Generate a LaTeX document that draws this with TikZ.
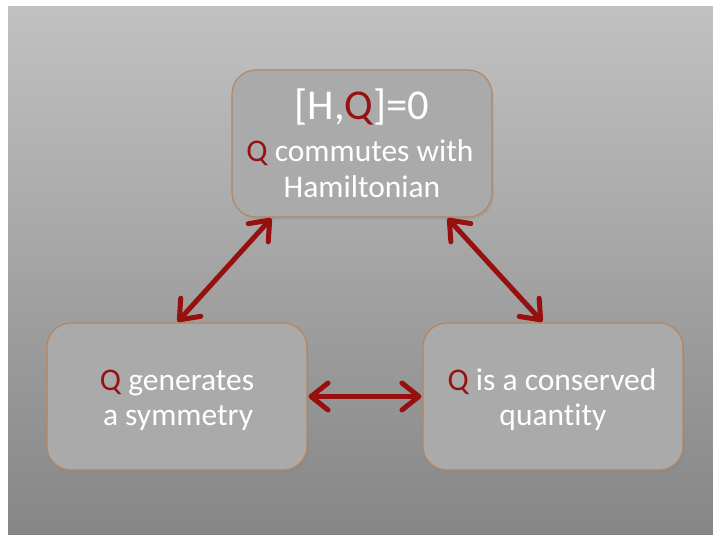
\documentclass[tikz,border=0pt]{standalone}
\usepackage{fontspec}
\setmainfont[Ligatures=NoCommon]{Carlito}
\usetikzlibrary{arrows.meta,shadows}
\definecolor{qred}{RGB}{150,18,18}
\definecolor{arrred}{RGB}{150,16,16}
\definecolor{boxfill}{RGB}{170,170,170}
\definecolor{boxedge}{RGB}{184,132,92}
\begin{document}
\begin{tikzpicture}[x=1pt,y=-1pt,
  box/.style={draw=boxedge, line width=1.1pt, fill=boxfill, rounded corners=24pt,
    minimum width=260pt, minimum height=147pt, inner sep=0pt,
    drop shadow={opacity=0.22, shadow xshift=1.5pt, shadow yshift=-2.5pt}},
  lbl/.style={anchor=base, text=white, inner sep=0pt},
  big/.style={lbl, font=\fontsize{42.5}{46}\selectfont},
  med/.style={lbl, font=\fontsize{31.5}{35}\selectfont},
  link/.style={draw=arrred, line width=5pt, {Straight Barb[length=17pt,width=27pt,line cap=round,line join=round]}-{Straight Barb[length=17pt,width=27pt,line cap=round,line join=round]}, shorten <=1pt, shorten >=1pt}
]
\useasboundingbox (0,0) rectangle (713,535);
\fill[white] (0,0) rectangle (713,535);
\shade[top color={rgb,255:red,193;green,193;blue,193}, middle color={rgb,255:red,176;green,176;blue,176}, bottom color={rgb,255:red,134;green,134;blue,134}] (8,7) rectangle (713,535);

\node[box] (top) at (362,143.5) {};
\node[box] (left) at (177,396.5) {};
\node[box] (right) at (553,396.5) {};

\node[big] (t1) at (362,120) {[H,{\color{qred}Q}]=0};
\node[med] (t2) at (360,161) {{\color{qred}Q} commutes with};
\node[med] (t3) at (362,197) {Hamiltonian};
\node[med] (l1) at (177,390) {{\color{qred}Q} generates};
\node[med] (l2) at (178,425) {a symmetry};
\node[med] (r1) at (552,390) {{\color{qred}Q} is a conserved};
\node[med] (r2) at (553,425) {quantity};

\draw[link] ([xshift=-90pt]top.south) -- (left.north);
\draw[link] ([xshift=85pt]top.south) -- ([xshift=-10pt]right.north);
\draw[link] (left.east) -- (right.west);
\end{tikzpicture}
\end{document}
